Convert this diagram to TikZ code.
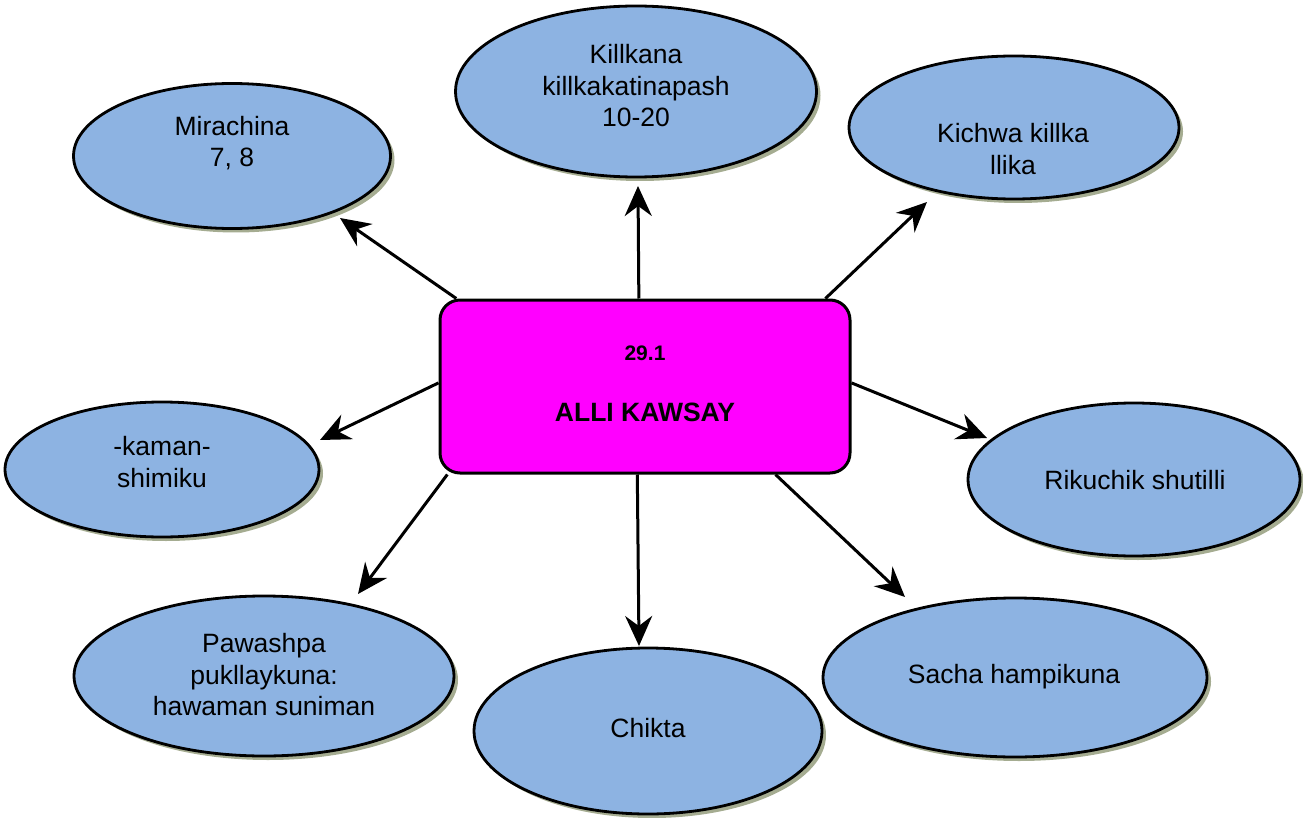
\documentclass[tikz,border=0pt]{standalone}
\usepackage{fontspec}
\setmainfont{Liberation Sans}
\usepackage{xcolor}
\usepackage{tikz}
\usetikzlibrary{shapes.geometric,shadows,arrows.meta}

\definecolor{celeste}{HTML}{8DB3E2}
\definecolor{fucsia}{RGB}{255,0,255}
\definecolor{ombra}{RGB}{165,172,145}

\tikzset{
  bolla/.style={ellipse, draw, line width=2.8pt, fill=celeste, inner sep=0pt,
    drop shadow={shadow xshift=4pt, shadow yshift=-4pt, fill=ombra, opacity=1}},
  testo/.style={font=\fontsize{26.5}{31.5}\selectfont, align=center, inner sep=0pt},
  titolo/.style={font=\bfseries\fontsize{26.5}{31.5}\selectfont, inner sep=0pt},
  freccia/.style={line width=3pt, -{Stealth[length=30pt, width=27pt, inset=10pt]}}
}

\begin{document}
\begin{tikzpicture}[x=1pt, y=-1pt]
        \useasboundingbox (0,0) rectangle (1303,818);

        % Riquadro centrale
        \node[draw, line width=3pt, fill=fucsia, rounded corners=20pt,
              minimum width=410pt, minimum height=173pt] (hub) at (645,386.5) {};
        \node[titolo, font=\bfseries\fontsize{21}{25}\selectfont] (hub-num) at (645,353) {29.1};
        \node[titolo] (hub-tit) at (645,412) {ALLI KAWSAY};

        % Ellissi
        \node[bolla, minimum width=317pt, minimum height=145pt] (mir) at (232,156) {};
        \node[bolla, minimum width=361pt, minimum height=171pt] (kil) at (636,91.5) {};
        \node[bolla, minimum width=330pt, minimum height=143pt] (kic) at (1014,127.5) {};
        \node[bolla, minimum width=314pt, minimum height=135pt] (kam) at (162,469.5) {};
        \node[bolla, minimum width=332pt, minimum height=153pt] (rik) at (1134,479.5) {};
        \node[bolla, minimum width=380pt, minimum height=160pt] (paw) at (264,676) {};
        \node[bolla, minimum width=348pt, minimum height=166pt] (chi) at (648,731) {};
        \node[bolla, minimum width=384pt, minimum height=159pt] (sac) at (1015,677.5) {};

        % Testi delle ellissi
        \node[testo] (mir-t) at (232,143) {Mirachina\\7, 8};
        \node[testo] (kil-t) at (636,86) {Killkana\\killkakatinapash\\10-20};
        \node[testo] (kic-t) at (1013,149) {Kichwa killka\\llika};
        \node[testo] (kam-t) at (162,462) {-kaman-\\shimiku};
        \node[testo] (rik-t) at (1135,480) {Rikuchik shutilli};
        \node[testo] (paw-t) at (264,675) {Pawashpa\\pukllaykuna:\\hawaman suniman};
        \node[testo] (chi-t) at (648,728) {Chikta};
        \node[testo] (sac-t) at (1014,677) {Sacha hampikuna};

        % Punte delle frecce
        \coordinate (t-mir) at (340,218);
        \coordinate (t-kil) at (638,186);
        \coordinate (t-kic) at (927,202);
        \coordinate (t-kam) at (320,440);
        \coordinate (t-rik) at (987,438);
        \coordinate (t-paw) at (358,594);
        \coordinate (t-chi) at (639,646);
        \coordinate (t-sac) at (905,597);

        % Frecce dal riquadro
        \foreach \a/\t in {155/mir, 94.5/kil, 26.6/kic, 179/kam, 1.8/rik, 204.7/paw, 265.4/chi, 326.5/sac} {
            \draw[freccia] (hub.\a) -- (t-\t);
        }
\end{tikzpicture}
\end{document}
